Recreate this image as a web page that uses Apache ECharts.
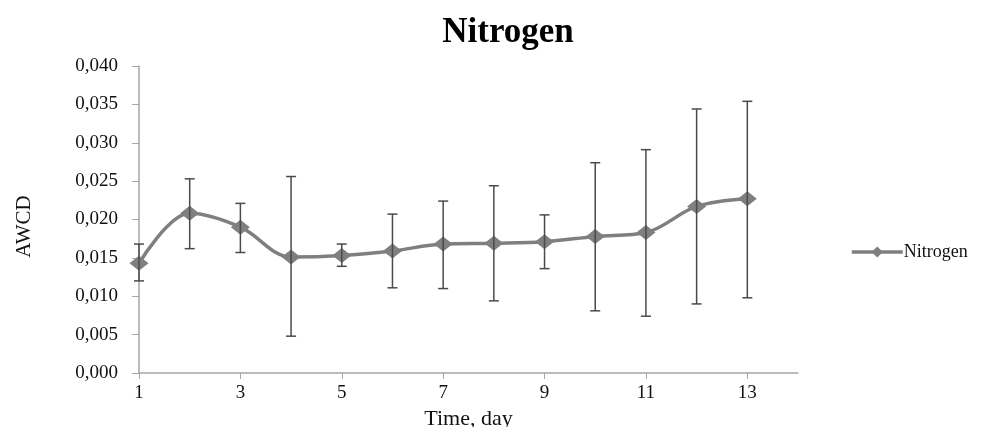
<!DOCTYPE html>
<html>
<head>
<meta charset="utf-8">
<script src="https://cdn.jsdelivr.net/npm/echarts@6/dist/echarts.min.js"></script>
<style>
  html, body { margin: 0; padding: 0; background: #fff; }
  #main { width: 986px; height: 427px; }
</style>
</head>
<body>
<div id="main"></div>
<script>
// data
var days = [1, 2, 3, 4, 5, 6, 7, 8, 9, 10, 11, 12, 13]
var awcd = [0.0143, 0.0208, 0.0190, 0.0151, 0.0153, 0.0159, 0.0168, 0.0169, 0.0171, 0.0178, 0.0183, 0.0217, 0.0227]
var errLow = [0.0120, 0.0162, 0.0157, 0.0048, 0.0139, 0.0111, 0.0110, 0.0094, 0.0136, 0.0081, 0.0074, 0.0090, 0.0098]
var errHigh = [0.0168, 0.0253, 0.0221, 0.0256, 0.0168, 0.0207, 0.0224, 0.0244, 0.0206, 0.0274, 0.0291, 0.0344, 0.0354]
var xTicks = [1, 3, 5, 7, 9, 11, 13]

var serif = '"Liberation Serif", "Times New Roman", serif'

var lineData = days.map(function (d, i) { return [d, awcd[i]] })
var barData = days.map(function (d, i) { return [d, errLow[i], errHigh[i]] })

var myChart = echarts.init(document.getElementById('main'))

var option = {
  animation: false,
  backgroundColor: '#fff',
  title: {
    text: 'Nitrogen',
    left: 503,
    textAlign: 'center',
    top: 10,
    textStyle: { fontFamily: serif, fontWeight: 'bold', fontSize: 35, color: '#000' }
  },
  legend: {
    left: 845,
    top: 238,
    itemWidth: 51,
    itemHeight: 14,
    itemGap: 2,
    lineStyle: { width: 3.5 },
    textStyle: { fontFamily: serif, fontSize: 18, color: '#111', padding: [0, 0, 0, -4] },
    data: ['Nitrogen']
  },
  grid: { left: 139, right: 188, top: 66, bottom: 54, containLabel: false, outerBoundsMode: 'none' },
  xAxis: {
    type: 'value',
    min: 1,
    max: 14,
    name: 'Time, day',
    nameLocation: 'middle',
    nameGap: 33,
    nameTextStyle: { fontFamily: serif, fontSize: 22, color: '#111' },
    axisLine: { lineStyle: { color: '#a6a6a6', width: 1.5 } },
    axisTick: { show: true, length: 6, customValues: xTicks, lineStyle: { color: '#a6a6a6' } },
    axisLabel: { customValues: xTicks, fontFamily: serif, fontSize: 19, color: '#111', margin: 11 },
    splitLine: { show: false }
  },
  yAxis: {
    type: 'value',
    min: 0,
    max: 0.04,
    interval: 0.005,
    name: 'AWCD',
    nameLocation: 'middle',
    nameGap: 104,
    nameRotate: 90,
    nameTextStyle: { fontFamily: serif, fontSize: 21, color: '#111', padding: [0, 14, 0, 0] },
    axisLine: { show: true, lineStyle: { color: '#a6a6a6', width: 1.5 } },
    axisTick: { show: true, length: 7, lineStyle: { color: '#a6a6a6' } },
    axisLabel: {
      fontFamily: serif, fontSize: 19, color: '#111', margin: 21,
      formatter: function (v) { return v.toFixed(3).replace('.', ',') }
    },
    splitLine: { show: false }
  },
  series: [
    {
      name: 'Nitrogen',
      type: 'line',
      data: lineData,
      smooth: 0.35,
      symbol: 'diamond',
      symbolSize: [19, 15],
      itemStyle: { color: '#7f7f7f' },
      lineStyle: { color: '#7f7f7f', width: 3.5 },
      z: 2
    },
    {
      name: 'err',
      type: 'custom',
      data: barData,
      z: 3,
      silent: true,
      renderItem: function (params, api) {
        var x = api.value(0)
        var lo = api.coord([x, api.value(1)])
        var hi = api.coord([x, api.value(2)])
        var half = 5
        var style = { stroke: '#4a4a4a', lineWidth: 1.5 }
        return {
          type: 'group',
          children: [
            { type: 'line', shape: { x1: lo[0], y1: lo[1], x2: hi[0], y2: hi[1] }, style: style },
            { type: 'line', shape: { x1: lo[0] - half, y1: lo[1], x2: lo[0] + half, y2: lo[1] }, style: style },
            { type: 'line', shape: { x1: hi[0] - half, y1: hi[1], x2: hi[0] + half, y2: hi[1] }, style: style }
          ]
        }
      }
    }
  ]
}

myChart.setOption(option)
</script>
</body>
</html>
